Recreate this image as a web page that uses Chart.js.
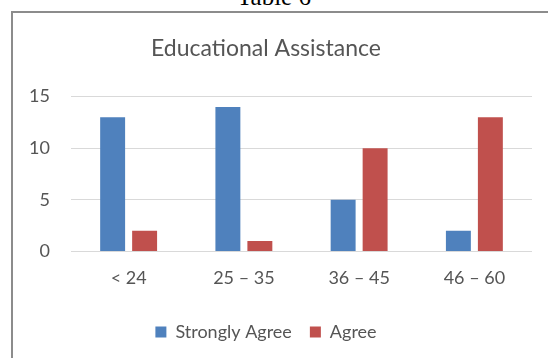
<!DOCTYPE html>
<html>
<head>
<meta charset="utf-8">
<script src="https://cdn.jsdelivr.net/npm/chart.js@4"></script>
<style>
  html, body { margin: 0; padding: 0; background: #fff; }
  #wrap { position: relative; width: 548px; height: 358px; overflow: hidden; }
  #cap { position: absolute; left: 0; width: 548px; top: -17px; text-align: center;
         font-family: "Liberation Serif", serif; font-size: 25px; line-height: 28px; color: #000; }
  #box { position: absolute; left: 11px; top: 11px; width: 560px; height: 400px;
         border: 2px solid #8c8c8c; box-sizing: border-box; }
  #c { position: absolute; left: 0; top: 0; }
</style>
</head>
<body>
<div id="wrap">
  <div id="cap">Table 6</div>
  <div id="box"></div>
  <canvas id="c" width="548" height="358"></canvas>
</div>
<script>
const categories = ["< 24", "25 – 35", "36 – 45", "46 – 60"];
const stronglyAgree = [13, 14, 5, 2];
const agree = [2, 1, 10, 13];
const seriesNames = ["Strongly Agree", "Agree"];
const yTicks = { min: 0, max: 15, step: 5 };

const textColor = "#555555";
const fontFamily = "Lato, 'Open Sans', sans-serif";

new Chart(document.getElementById("c"), {
  type: "bar",
  data: {
    labels: categories,
    datasets: [
      { label: seriesNames[0], data: stronglyAgree, backgroundColor: "#4F81BD",
        categoryPercentage: 0.555, barPercentage: 0.78 },
      { label: seriesNames[1], data: agree, backgroundColor: "#C0504D",
        categoryPercentage: 0.555, barPercentage: 0.78 }
    ]
  },
  options: {
    responsive: false,
    animation: false,
    layout: { padding: { left: 0, right: 16, top: 0, bottom: 7 } },
    plugins: {
      title: {
        display: true, text: "Educational Assistance", color: textColor,
        font: { family: fontFamily, size: 23, weight: "normal" },
        padding: { top: 35, bottom: 34 }
      },
      legend: {
        position: "bottom",
        labels: {
          color: textColor, boxWidth: 11, boxHeight: 11, padding: 18,
          font: { family: fontFamily, size: 18 }
        }
      },
      tooltip: { enabled: false }
    },
    scales: {
      x: {
        grid: { display: false, drawTicks: false },
        border: { display: false },
        ticks: { color: textColor, font: { family: fontFamily, size: 18 }, padding: 16 }
      },
      y: {
        min: yTicks.min, max: yTicks.max,
        afterFit: (s) => { s.width = 71; },
        grid: { color: "#d9d9d9", drawTicks: false },
        border: { display: false },
        ticks: { stepSize: yTicks.step, color: textColor, padding: 21,
                 font: { family: fontFamily, size: 18 } }
      }
    }
  }
});
</script>
</body>
</html>
